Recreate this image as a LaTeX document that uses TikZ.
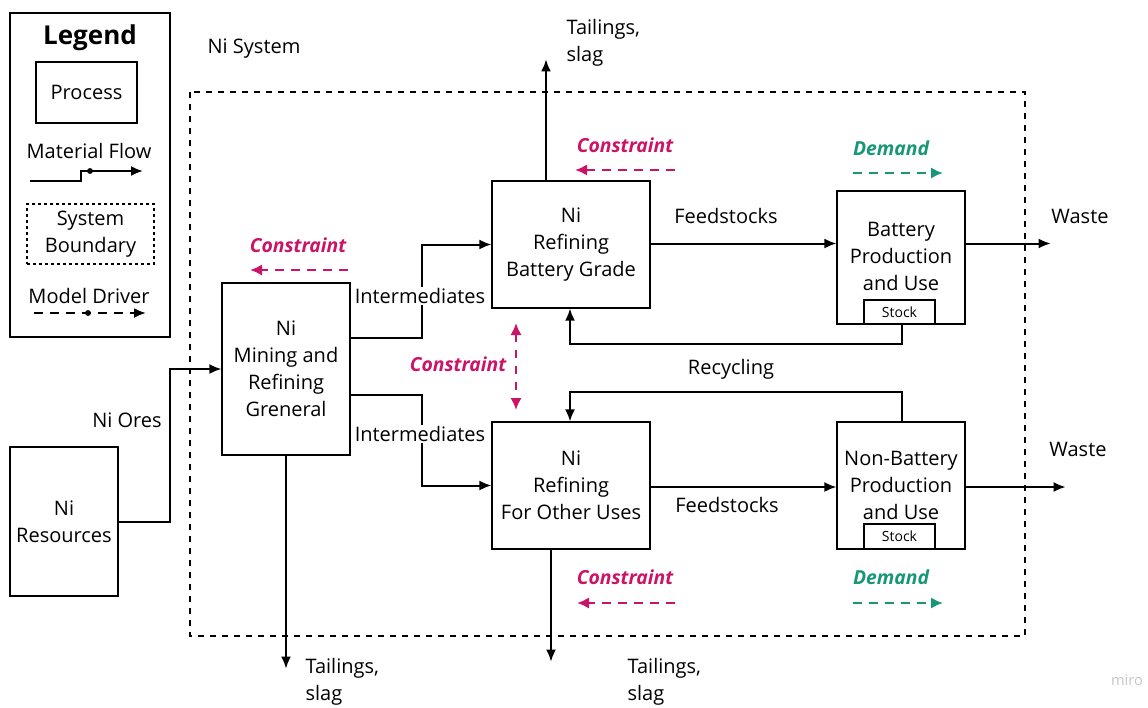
\documentclass[tikz,border=0pt]{standalone}
\usepackage{fontspec}
\setmainfont{Open Sans}
\usetikzlibrary{arrows.meta,calc}
\definecolor{cmag}{RGB}{204,20,102}
\definecolor{cteal}{RGB}{24,150,120}
\tikzset{
  px/.style={x=0.75pt,y=-0.75pt},
  txt/.style={font=\fontsize{15}{20.25}\selectfont, inner sep=1pt, align=center},
  proc/.style={draw, line width=0.9pt, inner sep=0pt, align=center,
               font=\fontsize{15}{20.25}\selectfont},
  stockbox/.style={draw, line width=0.9pt, inner sep=0pt, fill=white,
               font=\fontsize{10.5}{12}\selectfont},
  flow/.style={line width=1.5pt, -{Latex[length=9pt,width=7.5pt]}},
  boundary/.style={line width=1.4pt, dash pattern=on 4.5pt off 4.5pt},
  cons/.style={cmag, line width=1.8pt, dash pattern=on 6.5pt off 5.5pt,
               -{Latex[length=9pt,width=8.5pt]}},
  dem/.style={cteal, line width=1.8pt, dash pattern=on 6.5pt off 5.5pt,
               -{Latex[length=9pt,width=8.5pt]}},
  conslbl/.style={cmag, font=\fontsize{14.5}{17}\selectfont\bfseries\itshape, inner sep=1pt},
  demlbl/.style={cteal, font=\fontsize{14.5}{17}\selectfont\bfseries\itshape, inner sep=1pt},
}
\begin{document}
\begin{tikzpicture}[px]
\useasboundingbox (0,0) rectangle (1148,707);
\fill[white] (0,0) rectangle (1148,707);

% ---------------- legend ----------------
\node[draw, line width=0.9pt, minimum width=120pt, minimum height=243pt, inner sep=0pt]
  (legend) at (90,175) {};
\node[font=\fontsize{19.5}{22}\selectfont\bfseries] (legtitle) at (90,38) {Legend};
\node[proc, minimum width=75.75pt, minimum height=45.75pt] (legproc) at (86.5,92.5) {Process};
\node[txt] (legflow) at (89,151) {Material Flow};
\coordinate (lf0) at (30,181);
\coordinate (lf1) at (143,171);
\draw[flow] (lf0) -- (81,181) -- (81,171) -- (lf1);
\fill (90,171) circle (2.2pt);
\node[draw, line width=0.8pt, dash pattern=on 2.5pt off 2pt, minimum width=95.25pt,
      minimum height=45pt, inner sep=0pt, txt] (legbound) at (90.5,234) {System\\Boundary};
\node[txt] (legdrv) at (89,296) {Model Driver};
\coordinate (ld0) at (34,313);
\coordinate (ld1) at (146,313);
\draw[line width=1.6pt, dash pattern=on 6.5pt off 5.5pt, -{Latex[length=9pt,width=7.5pt]}] (ld0) -- (ld1);
\fill (88,313) circle (2.2pt);

% ---------------- system boundary ----------------
\draw[boundary] (190,92) rectangle (1025,636);
\node[txt] (sysname) at (254,49) {Ni System};

% ---------------- processes ----------------
\node[proc, minimum width=81pt, minimum height=111.75pt] (res) at (64,521.5) {Ni\\Resources};
\node[proc, minimum width=96pt, minimum height=129pt] (mine) at (286,369)
  {Ni\\Mining and\\Refining\\Greneral};
\node[proc, minimum width=118.5pt, minimum height=95.25pt] (bg) at (571,244.5)
  {Ni\\Refining\\Battery Grade};
\node[proc, minimum width=118.5pt, minimum height=95.25pt] (ou) at (571,485.5)
  {Ni\\Refining\\For Other Uses};
\node[proc, minimum width=96pt, minimum height=99.75pt] (bp) at (901,257.5) {};
\node[txt] at (901,256.5) {Battery\\Production\\and Use};
\node[stockbox, minimum width=53.25pt, minimum height=18pt] (st1) at (899.5,312) {Stock};
\node[proc, minimum width=96pt, minimum height=95.25pt] (nb) at (901,485.5) {};
\node[txt] at (901,485) {Non-Battery\\Production\\and Use};
\node[stockbox, minimum width=53.25pt, minimum height=18.75pt] (st2) at (899.5,536.5) {Stock};

% ---------------- material flows ----------------
\draw[flow] (res.east) -- ++(51,0) |- (mine.west);
\node[txt] (ores) at (127,420) {Ni Ores};

\draw[flow] ($(mine.east)+(0,-31)$) -- ++(71,0) |- (bg.west);
\draw[flow] ($(mine.east)+(0,26)$) -- ++(71,0) |- (ou.west);
\node[txt, fill=white] (int1) at (420,296) {Intermediates};
\node[txt, fill=white] (int2) at (420,434) {Intermediates};

\draw[flow] (mine.south) -- ++(0,213) coordinate (tl1);
\node[txt, align=left, anchor=west] (tail1) at (304,682) {Tailings,\\slag};
\draw[flow] ($(bg.north)+(-25,0)$) -- ++(0,-121) coordinate (tl2);
\node[txt, align=left, anchor=west] (tail2) at (565,43) {Tailings,\\slag};
\draw[flow] ($(ou.south)+(-20,0)$) -- ++(0,112) coordinate (tl3);
\node[txt, align=left, anchor=west] (tail3) at (626,682) {Tailings,\\slag};

% feedstock flows into the production stages
\coordinate (fs1s) at ($(bg.east)+(0,-1)$);
\draw[flow] (fs1s) -- (fs1s -| bp.west);
\node[txt] (fs1) at (726,216) {Feedstocks};
\coordinate (fs2s) at ($(ou.east)+(0,1.5)$);
\draw[flow] (fs2s) -- (fs2s -| nb.west);
\node[txt] (fs2) at (727,505) {Feedstocks};

% waste leaving the system
\coordinate (w1s) at (fs1s -| bp.east);
\draw[flow] (w1s) -- ++(85,0) coordinate (w1);
\node[txt] (waste1) at (1080,216) {Waste};
\coordinate (w2s) at (fs2s -| nb.east);
\draw[flow] (w2s) -- ++(100,0) coordinate (w2);
\node[txt] (waste2) at (1078,449) {Waste};

% recycling loops
\draw[flow] ($(st1.south)+(2.5,0)$) -- ++(0,19) -| ($(bg.south)+(-1,0)$);
\draw[flow] ($(nb.north)+(1,0)$) -- ++(0,-29) -| ($(ou.north)+(-1,0)$);
\node[txt] (recyc) at (731,369) {Recycling};

% ---------------- model drivers ----------------
\node[conslbl] (c1) at (298,245) {Constraint};
\coordinate (c1a) at (348,270); \coordinate (c1b) at (250,270);
\draw[cons] (c1a) -- (c1b);
\node[conslbl] (c2) at (625,145) {Constraint};
\coordinate (c2a) at (675,170); \coordinate (c2b) at (575,170);
\draw[cons] (c2a) -- (c2b);
\node[conslbl] (c3) at (458,364) {Constraint};
\coordinate (c3a) at (516,323); \coordinate (c3b) at (516,410);
\draw[cons, {Latex[length=9pt,width=8.5pt]}-{Latex[length=9pt,width=8.5pt]}] (c3a) -- (c3b);
\node[conslbl] (c4) at (625,577) {Constraint};
\coordinate (c4a) at (675,603); \coordinate (c4b) at (577,603);
\draw[cons] (c4a) -- (c4b);

\node[demlbl] (d1) at (891,148) {Demand};
\coordinate (d1a) at (853,173); \coordinate (d1b) at (943,173);
\draw[dem] (d1a) -- (d1b);
\node[demlbl] (d2) at (891,577) {Demand};
\coordinate (d2a) at (853,603); \coordinate (d2b) at (943,603);
\draw[dem] (d2a) -- (d2b);

\node[gray!45, font=\fontsize{11}{12}\selectfont] (miro) at (1127,680) {miro};
\end{tikzpicture}
\end{document}
